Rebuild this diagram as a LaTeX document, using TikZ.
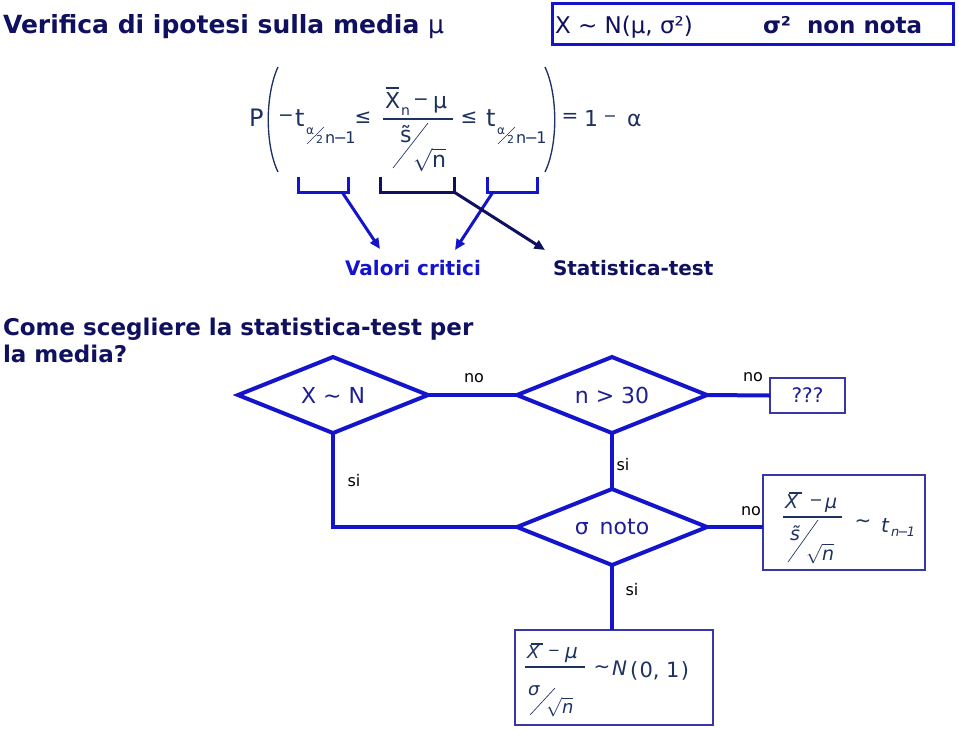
\documentclass[tikz,border=0pt]{standalone}
\usepackage{fontspec}
\setmainfont{DejaVu Sans}
\usetikzlibrary{arrows.meta,shapes.geometric}
\definecolor{navy}{RGB}{16,16,96}
\definecolor{flow}{RGB}{20,20,205}
\definecolor{fml}{RGB}{30,50,95}
\definecolor{boxc}{RGB}{55,55,170}
\definecolor{ftext}{RGB}{30,30,150}
\newcommand{\fsz}[1]{\fontsize{#1}{#1}\selectfont}
\newcommand{\nmo}{n\kern-1.2pt−\kern-1.2pt1}
\begin{document}
\begin{tikzpicture}[x=0.75pt,y=-0.75pt,
  every node/.style={inner sep=0pt,outer sep=0pt},
  bw/.style={anchor=base west},
  fl/.style={draw=flow,line width=3pt},
  dia/.style={diamond,aspect=2.5,draw=flow,line width=3pt,minimum width=142.5pt,minimum height=57pt,text=ftext,font=\fsz{16.5pt}},
  rbox/.style={rectangle,draw=boxc,line width=1.5pt},
  lab/.style={font=\fsz{12pt},text=black},
  thin/.style={line width=0.5pt,draw=fml},
  fbar/.style={line width=0.9pt,draw=fml},
  brk/.style={line width=2.25pt,line join=miter},
  arr/.style={line width=2.25pt,-{Triangle[length=8pt,width=7pt]}},
]
\path[fill=white,use as bounding box] (0,0) rectangle (959,729);

% title and header box
\node[bw,text=navy,font=\fsz{18.75pt}\bfseries] (title) at (3,33) {Verifica di ipotesi sulla media {\mdseries μ}};
\node[rectangle,draw=flow,line width=2.25pt,minimum width=300.75pt,minimum height=30.75pt] (hdr) at (752.5,23.5) {};
\node[bw,text=navy,font=\fsz{17.25pt}] (hx) at (555,33) {X \textasciitilde{} N(μ, σ²)};
\node[bw,text=navy,font=\fsz{17.25pt}\bfseries] (hs) at (763,33) {σ²\ \ non nota};

% probability formula
\begin{scope}[text=fml]
\node[bw,font=\fsz{18pt}] (P) at (249,126) {P};
\draw[line width=1pt,draw=fml] (278,67) .. controls (265,95) and (265,145) .. (278,172);
\draw[line width=1pt,draw=fml] (545,67) .. controls (558,95) and (558,145) .. (545,172);
\node[font=\fsz{14pt}] (m1) at (286,118) {−};
\node[bw,font=\fsz{18pt}] (t1) at (295,126) {t};
\node[bw,font=\fsz{9pt}] (a1) at (306,134) {α};
\draw[thin] (307,144) -- (324,127);
\node[bw,font=\fsz{8.25pt}] (two1) at (316,143) {2};
\node[bw,font=\fsz{12pt}] (nm1) at (325,143) {\nmo};
\node[font=\fsz{15pt}] (le1) at (363,118) {≤};
\node[bw,font=\fsz{16.5pt}] (Xn) at (385,108) {X};
\draw[fbar] (386,88) -- (399,88);
\node[bw,font=\fsz{10.5pt}] (sn) at (401,115) {n};
\node[font=\fsz{14pt}] (m2) at (421,102) {−};
\node[bw,font=\fsz{16.5pt}] (mu1) at (433,108) {μ};
\draw[fbar] (383,119) -- (453,119);
\node[bw,font=\fsz{16.5pt}] (s1) at (400,142) {\~{s}};
\draw[thin] (393,168) -- (428,123);
\node[bw,font=\fsz{16.5pt}] (rn1) at (413,167) {$\sqrt{\mbox{n}}$};
\node[font=\fsz{15pt}] (le2) at (469,118) {≤};
\node[bw,font=\fsz{18pt}] (t2) at (486,126) {t};
\node[bw,font=\fsz{9pt}] (a2) at (497,134) {α};
\draw[thin] (498,144) -- (515,127);
\node[bw,font=\fsz{8.25pt}] (two2) at (507,143) {2};
\node[bw,font=\fsz{12pt}] (nm2) at (516,143) {\nmo};
\node[font=\fsz{15pt}] (eq) at (570,118) {=};
\node[bw,font=\fsz{16.5pt}] (one) at (584,126) {1};
\node[font=\fsz{12pt}] (m3) at (610,119) {−};
\node[bw,font=\fsz{16.5pt}] (alpha) at (627,126) {α};
\end{scope}

% brackets
\coordinate (bl1) at (298,177); \coordinate (bl2) at (298,192); \coordinate (bl3) at (348,192); \coordinate (bl4) at (348,177);
\coordinate (bm1) at (380,177); \coordinate (bm2) at (380,192); \coordinate (bm3) at (454,192); \coordinate (bm4) at (454,177);
\coordinate (br1) at (487,177); \coordinate (br2) at (487,192); \coordinate (br3) at (537,192); \coordinate (br4) at (537,177);
\draw[brk,draw=flow] (bl1) -- (bl2) -- (bl3) -- (bl4);
\draw[brk,draw=navy] (bm1) -- (bm2) -- (bm3) -- (bm4);
\draw[brk,draw=flow] (br1) -- (br2) -- (br3) -- (br4);
\coordinate (sl) at (342,192); \coordinate (sr) at (493,192);
\coordinate (vcl) at (380,249); \coordinate (vcr) at (455,250); \coordinate (stt) at (545,250);
\node[bw,text=flow,font=\fsz{15pt}\bfseries] (vc) at (345,275) {Valori critici};
\node[bw,text=navy,font=\fsz{15pt}\bfseries] (st) at (553,275) {Statistica-test};
\draw[arr,draw=flow,fill=flow] (sl) -- (vcl);
\draw[arr,draw=flow,fill=flow] (sr) -- (vcr);
\draw[arr,draw=navy,fill=navy] (bm3) -- (stt);

% question
\node[bw,text=navy,font=\fsz{17.25pt}\bfseries] (q1) at (3,335) {Come scegliere la statistica-test per};
\node[bw,text=navy,font=\fsz{17.25pt}\bfseries] (q2) at (3,362) {la media?};

% flow chart
\node[dia] (d1) at (333,395) {X \textasciitilde{} N};
\node[dia] (d2) at (612,395) {n > 30};
\node[dia] (d3) at (612,527) {σ\hspace{3pt} noto};
\node[rbox,minimum width=56.25pt,minimum height=26.25pt,text=ftext,font=\fsz{15pt}] (qq) at (807.5,395.5) {???};
\node[rbox,minimum width=121.5pt,minimum height=71.25pt] (bt) at (844,522.5) {};
\node[rbox,minimum width=148.5pt,minimum height=71.25pt] (bn) at (614,677.5) {};
\draw[fl] (d1.east) -- (d2.west);
\draw[fl] (d2.east) -- (qq.west);
\draw[fl] (d1.south) |- (d3.west);
\draw[fl] (d2.south) -- (d3.north);
\draw[fl] (d3.east) -- (d3.east -| bt.west);
\draw[fl] (d3.south) -- (d3.south |- bn.north);
\node[lab] (no1) at (474,378) {no};
\node[lab] (no2) at (753,377) {no};
\node[lab] (no3) at (751,511) {no};
\node[lab] (si1) at (354,481) {si};
\node[lab] (si2) at (623,465) {si};
\node[lab] (si3) at (632,590) {si};

% t box formula
\begin{scope}[text=fml]
\node[bw,font=\fsz{14.25pt}\itshape] (tX) at (785,508) {X};
\draw[fbar] (789,493) -- (802,493);
\node[font=\fsz{12pt}] (tm) at (816,503) {−};
\node[bw,font=\fsz{14.25pt}\itshape] (tmu) at (825,508) {μ};
\draw[fbar] (783,517) -- (842,517);
\node[bw,font=\fsz{14.25pt}\itshape] (ts) at (790,540) {\~{s}};
\draw[thin] (788,562) -- (818,520);
\node[bw,font=\fsz{14.25pt}\itshape] (tr) at (806,560) {$\sqrt{\mbox{\itshape n}}$};
\node[font=\fsz{15pt}] (tt) at (863,523) {\textasciitilde};
\node[bw,font=\fsz{15pt}\itshape] (tt2) at (881,532) {t};
\node[bw,font=\fsz{9.75pt}\itshape] (tsub) at (891,536) {\nmo};
\end{scope}

% N box formula
\begin{scope}[text=fml]
\node[bw,font=\fsz{13.5pt}\itshape] (nX) at (527,658) {X};
\draw[fbar] (531,644) -- (543,644);
\node[font=\fsz{11pt}] (nm) at (554,653) {−};
\node[bw,font=\fsz{15pt}\itshape] (nmu) at (565,658) {μ};
\draw[fbar] (525,667) -- (585,667);
\node[bw,font=\fsz{13.5pt}\itshape] (nsig) at (528,695) {σ};
\draw[thin] (530,715) -- (555,688);
\node[bw,font=\fsz{13.5pt}\itshape] (nr) at (546,713) {$\sqrt{\mbox{\itshape n}}$};
\node[font=\fsz{15pt}] (nt) at (602,669) {\textasciitilde};
\node[bw,font=\fsz{15pt}\itshape] (nN) at (612,675) {N};
\node[bw,font=\fsz{15.75pt}] (n01) at (630,677) {(\kern1pt0,\kern5pt1\kern1pt)};
\end{scope}
\end{tikzpicture}
\end{document}
